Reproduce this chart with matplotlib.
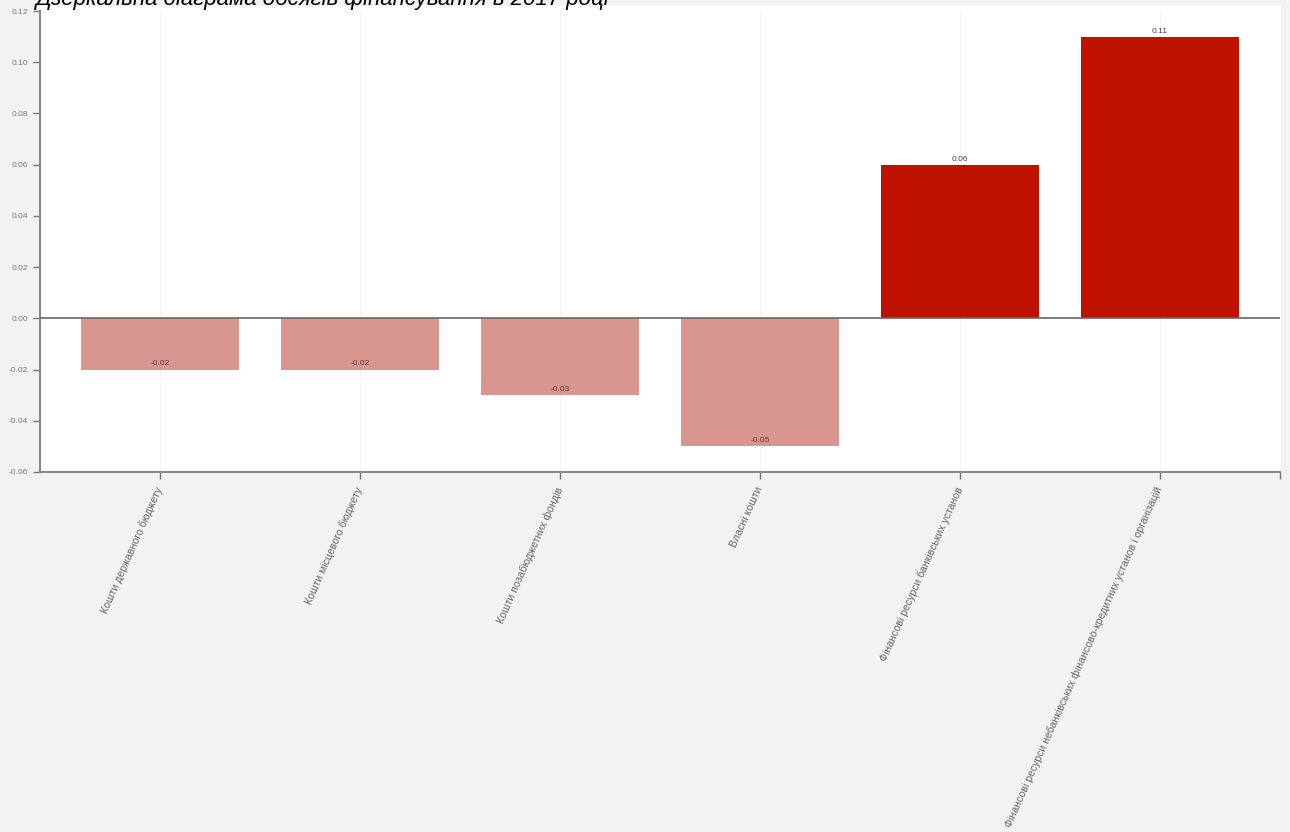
import matplotlib.pyplot as plt
import numpy as np

categories = [
    "Кошти державного бюджету",
    "Кошти місцевого бюджету",
    "Кошти позабюджетних фондів",
    "Власні кошти",
    "Фінансові ресурси банківських установ",
    "Фінансові ресурси небанківських фінансово-кредитних установ і організацій",
]
values = [-0.02, -0.02, -0.03, -0.05, 0.06, 0.11]
yticks = [-0.06, -0.04, -0.02, 0.00, 0.02, 0.04, 0.06, 0.08, 0.10, 0.12]
title = "Дзеркальна діаграма обсягів фінансування в 2017 році"

plt.rcParams["font.family"] = ["Liberation Sans", "DejaVu Sans"]

fig = plt.figure(figsize=(12.9, 8.32), dpi=100, facecolor="#f2f2f2")

# white panel a bit above the axes, like the original widget
fig.patches.append(plt.Rectangle((40 / 1290, 1 - 472 / 832), 1240 / 1290, 466 / 832,
                                 transform=fig.transFigure, color="white", zorder=-5))

ax = fig.add_axes([40 / 1290, 1 - 472 / 832, 1240 / 1290, 461 / 832])
ax.set_facecolor("white")

x = np.arange(len(categories))
colors = ["#d9958f" if v < 0 else "#bf1100" for v in values]
ax.bar(x, values, width=0.79, color=colors, zorder=2)

for xi, v in zip(x, values):
    if v < 0:
        ax.text(xi, v + 0.001, f"{v:.2f}", ha="center", va="bottom",
                fontsize=6, color="#5a3a38", zorder=3)
    else:
        ax.text(xi, v + 0.0008, f"{v:.2f}", ha="center", va="bottom",
                fontsize=6, color="#444444", zorder=3)

ax.axhline(0, color="#666666", lw=1.2, zorder=3)
for xi in x:
    ax.axvline(xi, color="#f3f3f3", lw=0.8, zorder=1)

ax.set_xlim(-0.6, 5.6)
ax.set_ylim(-0.06, 0.12)
ax.set_yticks(yticks)
ax.set_yticklabels([f"{t:.2f}" for t in yticks], fontsize=6, color="#777777")
ax.set_xticks(x)
ax.set_xticklabels(categories, rotation=66, rotation_mode="anchor",
                   ha="right", va="center", fontsize=7.6, color="#666666")
ax.set_xticks([5.6], minor=True)
ax.tick_params(axis="both", which="both", length=5, color="#777777", width=1)
ax.tick_params(axis="x", pad=6)

for s in ["top", "right"]:
    ax.spines[s].set_visible(False)
for s in ["left", "bottom"]:
    ax.spines[s].set_color("#888888")
    ax.spines[s].set_linewidth(1.5)

fig.text(35 / 1290, 1 - 5 / 832, title, ha="left", va="baseline",
         fontsize=16, style="italic", color="black")

fig.savefig("out.png", dpi=100, facecolor=fig.get_facecolor())
